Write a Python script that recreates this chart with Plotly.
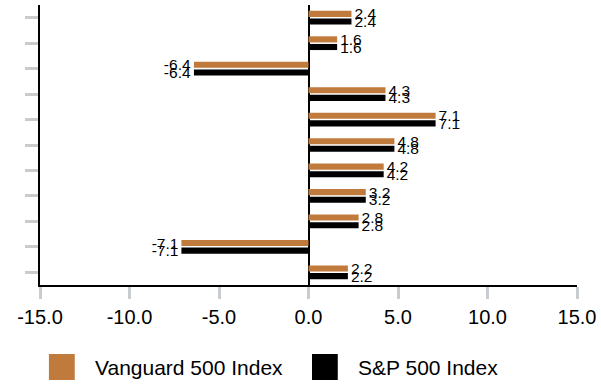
import plotly.graph_objects as go

# Category order, top to bottom
categories = ["1", "2", "3", "4", "5", "6", "7", "8", "9", "10", "11"]
series_names = ["Vanguard 500 Index", "S&P 500 Index"]
vanguard = [2.4, 1.6, -6.4, 4.3, 7.1, 4.8, 4.2, 3.2, 2.8, -7.1, 2.2]
sp500 = [2.4, 1.6, -6.4, 4.3, 7.1, 4.8, 4.2, 3.2, 2.8, -7.1, 2.2]
x_ticks = [-15, -10, -5, 0, 5, 10, 15]
x_tick_labels = ["-15.0", "-10.0", "-5.0", "0.0", "5.0", "10.0", "15.0"]

colors = ["#C07A3C", "#000000"]
font_family = "Liberation Sans, Arial, sans-serif"

fig = go.Figure()
for name, vals, col in zip(series_names, [vanguard, sp500], colors):
    fig.add_trace(go.Bar(
        y=categories, x=vals, name=name, orientation="h",
        marker=dict(color=col, line=dict(width=0)),
        text=[f"{v:.1f}" for v in vals], textposition="outside",
        constraintext="none", cliponaxis=False,
        textfont=dict(size=15.5, color="#000000", family=font_family),
        showlegend=False,
    ))

fig.update_layout(
    width=601, height=384,
    margin=dict(l=40, r=20, t=5, b=99),
    paper_bgcolor="white", plot_bgcolor="white",
    barmode="group", bargap=0.4, bargroupgap=0.2,
    font=dict(family=font_family, color="#000000"),
    xaxis=dict(
        range=[-15, 15], tickvals=x_ticks, ticktext=x_tick_labels,
        showgrid=False, zeroline=True, zerolinecolor="#000000", zerolinewidth=2,
        showline=True, linecolor="#000000", linewidth=2,
        ticks="outside", ticklen=12, tickwidth=3, tickcolor="#C8CCD0",
        tickfont=dict(size=20, color="#000000"), ticklabelstandoff=1,
    ),
    yaxis=dict(
        categoryorder="array", categoryarray=categories, autorange="reversed",
        showgrid=False, zeroline=False, showticklabels=False,
        showline=True, linecolor="#000000", linewidth=2,
        ticks="outside", ticklen=13, tickwidth=3, tickcolor="#C8CCD0",
    ),
)

# Legend drawn as swatches with labels below the plot
legend_items = [
    (series_names[0], colors[0], 0.0166, 0.0647, 0.0980),
    (series_names[1], colors[1], 0.5065, 0.5545, 0.5878),
]
for name, col, x0, x1, tx in legend_items:
    fig.add_shape(type="rect", xref="paper", yref="paper",
                  x0=x0, x1=x1, y0=-0.3393, y1=-0.2464,
                  fillcolor=col, line=dict(width=0))
    fig.add_annotation(xref="paper", yref="paper", x=tx, y=-0.295,
                       text=name, showarrow=False, xanchor="left", yanchor="middle",
                       font=dict(size=21, color="#000000", family=font_family))

fig.write_html("out.html")
